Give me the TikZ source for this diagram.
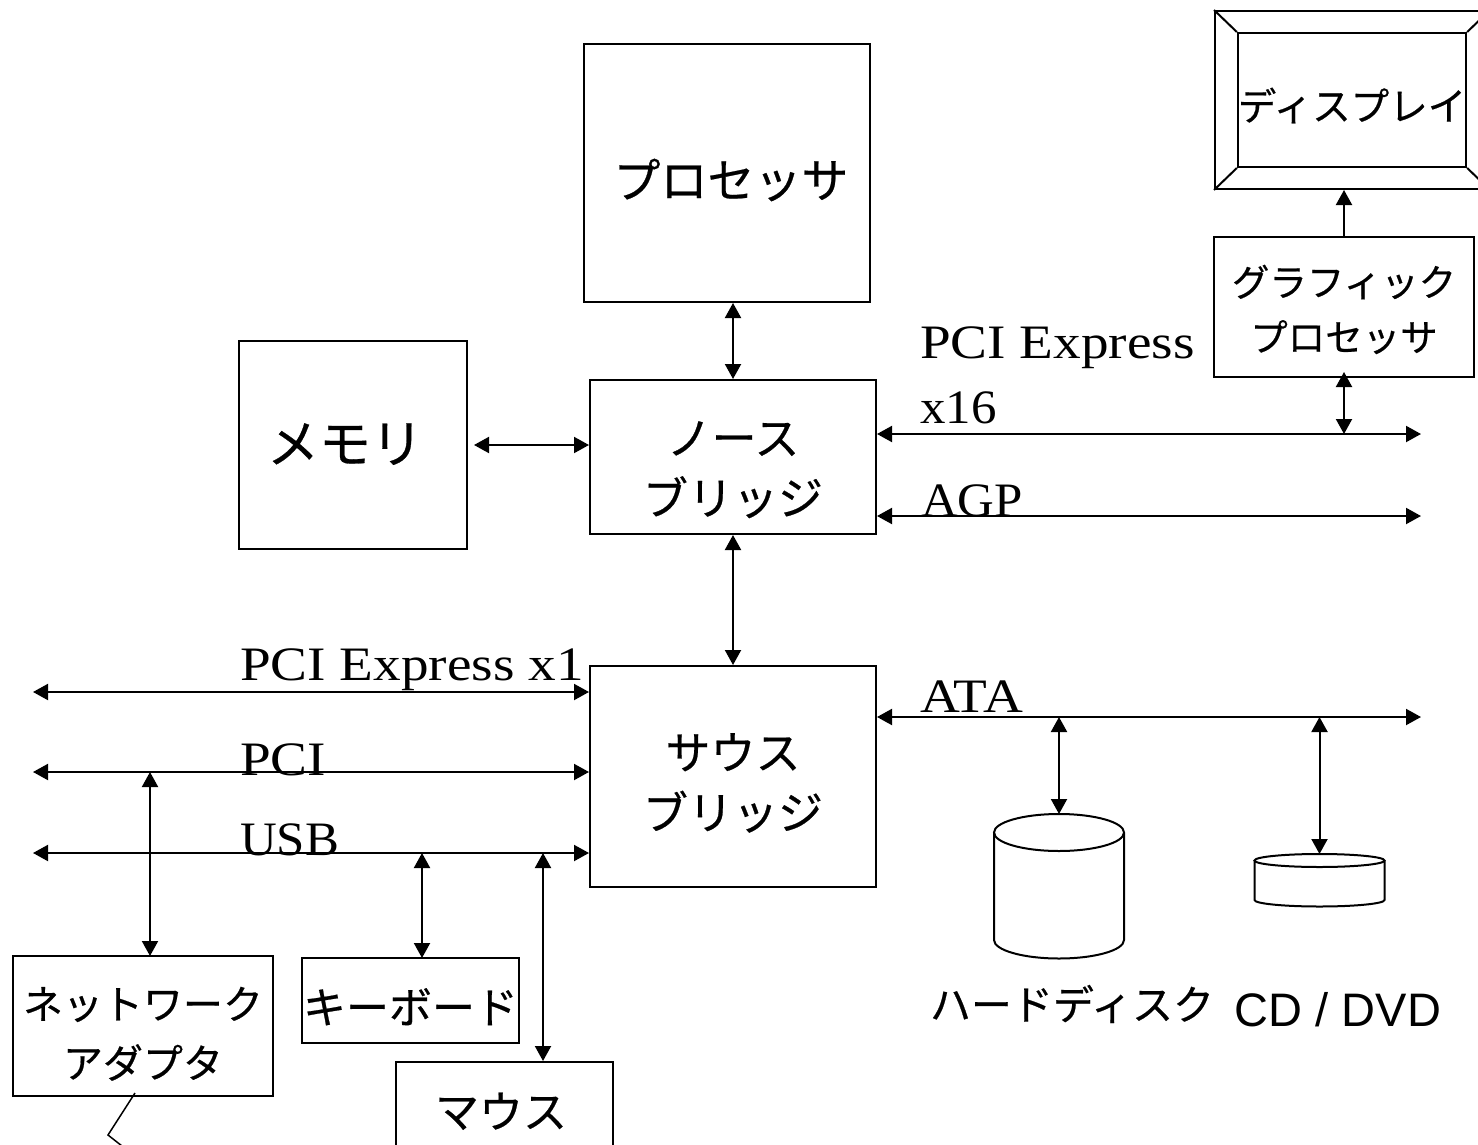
\documentclass[tikz,border=0pt]{standalone}
\usepackage{fontspec}
\usepackage{tikz}
\usetikzlibrary{arrows.meta}
\setmainfont[FakeBold=.5]{Noto Sans CJK JP}
\newfontfamily\busfont[FakeStretch=1.06]{Liberation Serif}
\newfontfamily\widebusfont[FakeStretch=1.15]{Liberation Serif}
\newcommand\lowered[2]{\raisebox{#1}[0pt][0pt]{\begin{tabular}{@{}c@{}}#2\end{tabular}}}
\newfontfamily\cdfont{Liberation Sans}
\tikzset{
	unitbox/.style={draw, line width=2pt, inner sep=0pt},
	sized/.style 2 args={font=\fontsize{#1}{#2}\selectfont},
	link/.style={line width=2pt, {Triangle[length=15pt,width=16pt]}-{Triangle[length=15pt,width=16pt]}},
	oneway/.style={line width=2pt, -{Triangle[length=15pt,width=16pt]}},
	busname/.style={inner sep=0pt, anchor=base west, font=\fontsize{48}{65}\selectfont\busfont},
	widebus/.style={busname, font=\fontsize{48}{65}\selectfont\widebusfont}
}
\begin{document}
\begin{tikzpicture}[x=1pt,y=-1pt]
\useasboundingbox (0,0) rectangle (1478,1145);
\clip (0,0) rectangle (1478,1145);
% boxes
\node[unitbox, sized={47}{60}, minimum width=286pt, minimum height=258pt] (proc) at (727,173) {\hspace*{8pt}\lowered{-19pt}{プロセッサ}};
\node[unitbox, sized={52}{60}, minimum width=228pt, minimum height=208pt] (mem) at (353,445) {\lowered{-12pt}{メモリ\hspace*{16pt}}};
\node[unitbox, sized={45}{60}, minimum width=286pt, minimum height=154pt] (north) at (733,457) {\lowered{-22pt}{ノース\\ブリッジ}};
\node[unitbox, sized={45}{60}, minimum width=286pt, minimum height=221pt] (south) at (733,776.5) {\lowered{-17pt}{サウス\\ブリッジ}};
\node[unitbox, sized={37.5}{55}, minimum width=260pt, minimum height=140pt] (gpu) at (1344,307) {\lowered{-12pt}{グラフィック\\プロセッサ}};
\node[unitbox, minimum width=274pt, minimum height=178pt] (frame) at (1352,100) {};
\node[unitbox, sized={38.5}{45}, minimum width=228pt, minimum height=134pt] (disp) at (1352,100) {\lowered{-17pt}{ディスプレイ}};
\foreach \c in {north west,north east,south west,south east}{
	\draw[line width=2pt] (frame.\c) -- (disp.\c);
}
\node[unitbox, sized={40}{59}, minimum width=260pt, minimum height=140pt] (net) at (143,1026) {\lowered{-17pt}{ネットワーク\\アダプタ}};
\node[unitbox, sized={43}{50}, minimum width=217pt, minimum height=85pt] (key) at (410.5,1000.5) {\lowered{-19pt}{キーボード}};
\node[unitbox, sized={44}{50}, anchor=north, minimum width=217pt, minimum height=100pt] (mouse) at (504.5,1061) {\hspace*{-7pt}\lowered{-12pt}{マウス}};
% disks
\foreach \name/\xx/\yy/\ry/\hh in {hdd/1059/832.5/18.5/107.5,cd/1319.5/860.5/6.5/39.5}{
	\coordinate (\name) at (\xx,\yy-\ry);
	\draw[line width=2pt] (\xx,\yy) ellipse (65 and \ry);
	\draw[line width=2pt] (\xx-65,\yy) -- (\xx-65,\yy+\hh) arc[start angle=180, end angle=360, x radius=65pt, y radius=\ry pt] -- (\xx+65,\yy);
}
\node[inner sep=0pt, sized={41}{50}] (hddname) at (1072,1004) {ハードディスク};
\node[inner sep=0pt, font=\fontsize{47}{50}\selectfont\cdfont] (cdname) at (1338,1010) {CD / DVD};
% buses
\foreach \name/\yy in {pcie/692,pci/772,usb/853}{
	\coordinate (\name) at (33,\yy);
	\draw[link] (\name) -- (\name -| south.west);
}
\coordinate (pcies) at (1421,434);
\coordinate (agp) at (1421,516);
\coordinate (ata) at (1421,717);
\draw[link] (pcies -| north.east) -- (pcies);
\draw[link] (agp -| north.east) -- (agp);
\draw[link] (ata -| south.east) -- (ata);
% links
\draw[link] (proc.south -| north.north) -- (north.north);
\draw[link, shorten <=6pt] (mem.east) -- (mem.east -| north.west);
\draw[link] (north.south) -- (south.north);
\draw[link, shorten <=-6pt] (gpu.south) -- (pcies -| gpu.south);
\draw[oneway] (gpu.north) -- (gpu.north |- frame.south);
\draw[link] (hdd |- ata) -- (hdd);
\draw[link] (cd |- ata) -- (cd);
\coordinate (netin) at (150,956);
\coordinate (keyin) at (422,958);
\coordinate (mousein) at (543,1061);
\draw[link] (netin |- pci) -- (netin);
\draw[link] (keyin |- usb) -- (keyin);
\draw[link] (mousein |- usb) -- (mousein);
\coordinate (callouta) at (135,1093);
\coordinate (calloutb) at (108,1135);
\coordinate (calloutc) at (122,1146);
\draw[line width=1.5pt] (callouta) -- (calloutb) -- (calloutc);
% bus names
\node[widebus] (pciename) at (240,680) {PCI Express x1};
\node[widebus] (pciname) at (240,775) {PCI};
\node[busname] (usbname) at (240,855) {USB};
\node[widebus] (ataname) at (920,712) {ATA};
\node[busname] (agpname) at (921,516) {AGP};
\node[widebus] (pciesa) at (920,358) {PCI Express};
\node[busname] (pciesb) at (920,423) {x16};
\end{tikzpicture}
\end{document}
